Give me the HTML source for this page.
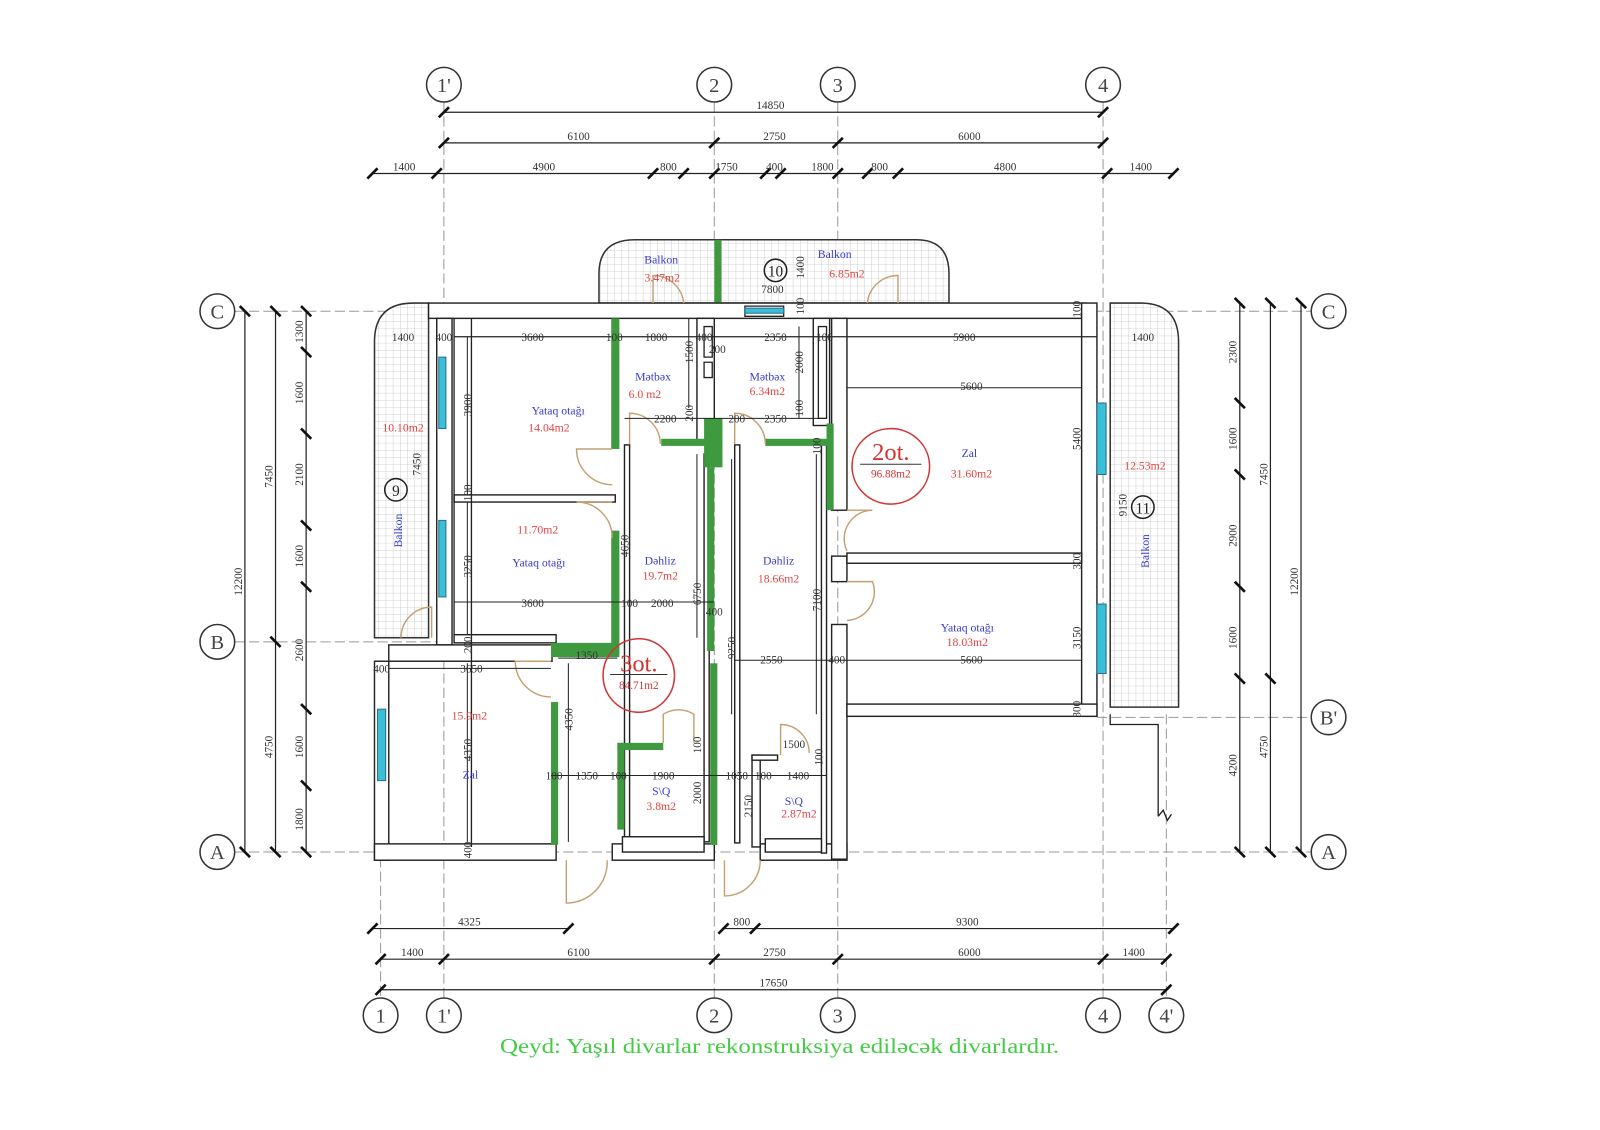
<!DOCTYPE html>
<html><head><meta charset="utf-8"><style>
html,body{margin:0;padding:0;background:#fff;}
svg{display:block;}
text{font-family:"Liberation Serif",serif;}
.d{font-size:11px;fill:#333;text-anchor:middle;}
.b{font-size:11.5px;fill:#3a3ad0;text-anchor:middle;}
.r{font-size:11.5px;fill:#e04545;text-anchor:middle;}
.ax{font-size:20px;fill:#444;text-anchor:middle;}
</style></head><body>
<svg width="1600" height="1130" viewBox="0 0 1568 1107.4" xmlns="http://www.w3.org/2000/svg">
<defs>
<pattern id="g" width="7" height="7" patternUnits="userSpaceOnUse">
<rect width="7" height="7" fill="#fff"/><path d="M0 0H7M0 0V7" stroke="#c4c4c4" stroke-width="0.8"/>
</pattern>
</defs>

<g stroke="#999" stroke-width="1" stroke-dasharray="10 4" fill="none">
<path d="M373 700V978M435 100V978M700 100V978M821 100V978M1081 100V978M1143 700V978"/>
<path d="M230 305H1285M230 629H440M1075 703H1285M230 835H1285"/>
</g>
<g fill="#fff" stroke="#333" stroke-width="1.5">
<circle cx="435" cy="83" r="17"/><circle cx="700" cy="83" r="17"/><circle cx="821" cy="83" r="17"/><circle cx="1081" cy="83" r="17"/>
<circle cx="373" cy="995" r="17"/><circle cx="435" cy="995" r="17"/><circle cx="700" cy="995" r="17"/><circle cx="821" cy="995" r="17"/><circle cx="1081" cy="995" r="17"/><circle cx="1143" cy="995" r="17"/>
<circle cx="213" cy="305" r="17"/><circle cx="213" cy="629" r="17"/><circle cx="213" cy="835" r="17"/>
<circle cx="1302" cy="305" r="17"/><circle cx="1302" cy="703" r="17"/><circle cx="1302" cy="835" r="17"/>
</g>
<g class="ax">
<text x="435" y="90">1'</text><text x="700" y="90">2</text><text x="821" y="90">3</text><text x="1081" y="90">4</text>
<text x="373" y="1002">1</text><text x="435" y="1002">1'</text><text x="700" y="1002">2</text><text x="821" y="1002">3</text><text x="1081" y="1002">4</text><text x="1143" y="1002">4'</text>
<text x="213" y="312">C</text><text x="213" y="636">B</text><text x="213" y="842">A</text>
<text x="1302" y="312">C</text><text x="1302" y="710">B'</text><text x="1302" y="842">A</text>
</g>

<g stroke="#222" stroke-width="1.2" fill="none">
<path d="M435 110H1081M435 140H1081M365 170H1150"/>
<path d="M365 910H557M709 910H1150M373 940H1143M373 970H1143"/>
<path d="M240 305V835M270 305V835M300 305V835M1215 297V835M1245 297V835M1275 297V835"/>
</g>
<g stroke="#111" stroke-width="2.6">
<path d="M430 115l10-10M1076 115l10-10
M430 145l10-10M695 145l10-10M816 145l10-10M1076 145l10-10
M360 175l10-10M423 175l10-10M635 175l10-10M665 175l10-10M695 175l10-10M745 175l10-10M760 175l10-10M816 175l10-10M845 175l10-10M875 175l10-10M1080 175l10-10M1145 175l10-10
M360 915l10-10M552 915l10-10M704 915l10-10M735 915l10-10M1145 915l10-10
M368 945l10-10M430 945l10-10M695 945l10-10M816 945l10-10M1076 945l10-10M1138 945l10-10
M368 975l10-10M1138 975l10-10
M235 300l10 10M235 830l10 10
M265 300l10 10M265 624l10 10M265 830l10 10
M295 300l10 10M295 340l10 10M295 420l10 10M295 510l10 10M295 570l10 10M295 690l10 10M295 765l10 10M295 830l10 10
M1210 292l10 10M1210 390l10 10M1210 460l10 10M1210 570l10 10M1210 660l10 10M1210 830l10 10
M1240 292l10 10M1240 660l10 10M1240 830l10 10
M1270 292l10 10M1270 830l10 10"/>
</g>
<g class="d">
<text x="755" y="107">14850</text>
<text x="567" y="137">6100</text><text x="759" y="137">2750</text><text x="950" y="137">6000</text>
<text x="396" y="167">1400</text><text x="533" y="167">4900</text><text x="655" y="167">800</text><text x="712" y="167">1750</text><text x="759" y="167">400</text><text x="806" y="167">1800</text><text x="862" y="167">800</text><text x="985" y="167">4800</text><text x="1118" y="167">1400</text>
<text x="460" y="907">4325</text><text x="727" y="907">800</text><text x="948" y="907">9300</text>
<text x="404" y="937">1400</text><text x="567" y="937">6100</text><text x="759" y="937">2750</text><text x="950" y="937">6000</text><text x="1111" y="937">1400</text>
<text x="758" y="967">17650</text>
<text transform="translate(237 570) rotate(-90)">12200</text>
<text transform="translate(267 467) rotate(-90)">7450</text><text transform="translate(267 732) rotate(-90)">4750</text>
<text transform="translate(297 325) rotate(-90)">1300</text><text transform="translate(297 385) rotate(-90)">1600</text><text transform="translate(297 465) rotate(-90)">2100</text><text transform="translate(297 545) rotate(-90)">1600</text><text transform="translate(297 637) rotate(-90)">2600</text><text transform="translate(297 732) rotate(-90)">1600</text><text transform="translate(297 803) rotate(-90)">1800</text>
<text transform="translate(1212 345) rotate(-90)">2300</text><text transform="translate(1212 430) rotate(-90)">1600</text><text transform="translate(1212 525) rotate(-90)">2900</text><text transform="translate(1212 625) rotate(-90)">1600</text><text transform="translate(1212 750) rotate(-90)">4200</text>
<text transform="translate(1242 465) rotate(-90)">7450</text><text transform="translate(1242 732) rotate(-90)">4750</text>
<text transform="translate(1272 570) rotate(-90)">12200</text>
</g>

<g stroke="#333" stroke-width="1.5">
<path d="M367 625V335Q367 297 405 297H420V625Z" fill="url(#g)"/>
<path d="M587 297V268Q587 235 622 235H898Q930 235 930 268V297Z" fill="url(#g)"/>
<path d="M1088 297H1118Q1155 297 1155 335V693H1088Z" fill="url(#g)"/>
</g>
<rect x="700" y="235" width="7" height="62" fill="#3f9a3f"/>

<g fill="#fff" stroke="#222" stroke-width="1.4">
<rect x="420" y="297" width="645" height="15"/>
<rect x="428" y="312" width="15" height="320"/>
<rect x="1060" y="297" width="15" height="405"/>
<rect x="367" y="648" width="14" height="195"/>
<rect x="367" y="827" width="178" height="16"/>
<rect x="600" y="827" width="100" height="16"/>
<rect x="745" y="827" width="85" height="16"/>
<rect x="381" y="632" width="160" height="16"/>
<rect x="815" y="312" width="15" height="188"/>
<rect x="815" y="545" width="15" height="25"/>
<rect x="815" y="612" width="15" height="230"/>
<rect x="830" y="542" width="230" height="10"/>
<rect x="830" y="690" width="245" height="12"/>
<rect x="445" y="485" width="158" height="7"/>
<rect x="445" y="622" width="100" height="8"/>
<rect x="683" y="312" width="17" height="120"/>
<rect x="797" y="312" width="16" height="105"/>
<rect x="612" y="436" width="5" height="390"/>
<rect x="690" y="445" width="5" height="380"/>
<rect x="720" y="436" width="5" height="390"/>
<rect x="805" y="436" width="5" height="400"/>
<rect x="737" y="740" width="8" height="90"/>
<rect x="737" y="740" width="25" height="5"/>
<rect x="610" y="820" width="80" height="15"/>
<rect x="750" y="822" width="55" height="13"/>
</g>
<g fill="none" stroke="#222" stroke-width="1.3">
<path d="M1088 700V710H1135V800M1135 800l5 -6 4 10 4 -6"/>
<path d="M445 312V622M462 312V830M445 330H1075"/>
<path d="M690 320v30h8v-30zM690 355v15h8v-15zM802 320v90h8v-90zM730 300h38v10h-38z"/>
</g>
<g fill="#3bbfd8" stroke="#2a6f8a" stroke-width="1">
<rect x="430" y="350" width="7" height="70"/><rect x="430" y="510" width="7" height="75"/>
<rect x="370" y="695" width="8" height="70"/>
<rect x="1075" y="395" width="9" height="70"/><rect x="1075" y="592" width="9" height="68"/>
<rect x="730" y="302" width="38" height="5"/>
</g>

<g fill="#3f9a3f">
<rect x="599" y="312" width="8" height="128"/>
<rect x="599" y="520" width="8" height="120"/>
<rect x="540" y="630" width="67" height="14"/>
<rect x="540" y="688" width="7" height="140"/>
<rect x="648" y="430" width="60" height="7"/>
<rect x="690" y="410" width="18" height="48"/>
<rect x="693" y="458" width="7" height="180"/>
<rect x="750" y="430" width="62" height="7"/>
<rect x="810" y="415" width="7" height="85"/>
<rect x="605" y="728" width="45" height="7"/>
<rect x="605" y="728" width="7" height="85"/>
<rect x="696" y="650" width="7" height="178"/>
</g>

<g fill="none" stroke="#c4a070" stroke-width="1.4">
<path d="M640 297V270A30 30 0 0 1 670 297"/>
<path d="M880 297V270A30 30 0 0 0 850 297"/>
<path d="M600 440H565A35 35 0 0 0 600 475"/>
<path d="M600 492H565A35 35 0 0 1 600 527"/>
<path d="M617 435V405A30 30 0 0 1 647 435"/>
<path d="M720 435V405A30 30 0 0 1 750 435"/>
<path d="M830 500H855A28 28 0 0 0 830 540"/>
<path d="M830 570H855A28 28 0 0 1 830 608"/>
<path d="M540 648H505A35 35 0 0 0 540 683"/>
<path d="M650 728V700A28 28 0 0 1 680 700V728"/>
<path d="M423 625V595A30 30 0 0 0 393 625"/>
<path d="M555 843V885A40 40 0 0 0 595 843"/>
<path d="M710 843V878A35 35 0 0 0 745 843"/>
<path d="M765 740V710A28 28 0 0 1 793 738"/>
</g>

<g stroke="#222" stroke-width="1" fill="none">
<path d="M830 380H1060M612 410H810M445 590H700M381 655H540M547 645H605M720 647H1060M540 760H810"/>
<path d="M458 330V485M458 492V622M612 440V640M683 445V625M717 450V700M800 445V700M557 650V825M458 650V825M675 312V400M783 320V410"/>
</g>
<g class="d" font-size="10.5">
<text x="395" y="334">1400</text><text x="435" y="334">400</text><text x="522" y="334">3600</text><text x="602" y="334">100</text><text x="643" y="334">1800</text><text x="690" y="334">400</text><text x="703" y="346">200</text><text x="760" y="334">2350</text><text x="808" y="334">100</text><text x="945" y="334">5900</text><text x="1120" y="334">1400</text>
<text x="952" y="382">5600</text><text x="652" y="414">2200</text><text x="722" y="414">200</text><text x="760" y="414">2350</text>
<text x="522" y="595">3600</text><text x="617" y="595">100</text><text x="649" y="595">2000</text><text x="700" y="603">400</text>
<text x="756" y="650">2550</text><text x="820" y="650">400</text><text x="952" y="650">5600</text><text x="462" y="659">3650</text><text x="374" y="659">400</text><text x="575" y="646">1350</text>
<text x="543" y="764">100</text><text x="575" y="764">1350</text><text x="606" y="764">100</text><text x="650" y="764">1900</text><text x="722" y="764">1050</text><text x="748" y="764">100</text><text x="782" y="764">1400</text><text x="778" y="733">1500</text>
<text x="757" y="287">7800</text>
<text transform="translate(462 397) rotate(-90)">3900</text><text transform="translate(462 483) rotate(-90)">100</text><text transform="translate(462 555) rotate(-90)">3250</text>
<text transform="translate(412 455) rotate(-90)">7450</text><text transform="translate(616 535) rotate(-90)">4650</text><text transform="translate(687 582) rotate(-90)">6750</text>
<text transform="translate(721 635) rotate(-90)">9250</text><text transform="translate(804 588) rotate(-90)">7100</text><text transform="translate(561 705) rotate(-90)">4350</text><text transform="translate(462 735) rotate(-90)">4350</text>
<text transform="translate(462 833) rotate(-90)">400</text><text transform="translate(462 632) rotate(-90)">200</text>
<text transform="translate(679 345) rotate(-90)">1500</text><text transform="translate(679 405) rotate(-90)">200</text><text transform="translate(787 355) rotate(-90)">2000</text><text transform="translate(787 400) rotate(-90)">100</text><text transform="translate(804 437) rotate(-90)">100</text>
<text transform="translate(1059 430) rotate(-90)">5400</text><text transform="translate(1104 495) rotate(-90)">9150</text><text transform="translate(1059 625) rotate(-90)">3150</text><text transform="translate(1059 550) rotate(-90)">300</text><text transform="translate(1059 695) rotate(-90)">300</text><text transform="translate(1059 303) rotate(-90)">100</text>
<text transform="translate(788 262) rotate(-90)">1400</text><text transform="translate(788 300) rotate(-90)">100</text>
<text transform="translate(687 777) rotate(-90)">2000</text><text transform="translate(687 730) rotate(-90)">100</text><text transform="translate(737 790) rotate(-90)">2150</text><text transform="translate(806 742) rotate(-90)">100</text>
</g>

<g class="b">
<text x="648" y="258">Balkon</text><text x="818" y="253">Balkon</text>
<text x="640" y="373">Mətbəx</text><text x="752" y="373">Mətbəx</text>
<text x="547" y="406">Yataq otağı</text><text x="528" y="555">Yataq otağı</text>
<text x="647" y="553">Dəhliz</text><text x="763" y="553">Dəhliz</text>
<text x="950" y="448">Zal</text><text x="948" y="619">Yataq otağı</text>
<text x="461" y="763">Zal</text><text x="648" y="779">S\Q</text><text x="778" y="789">S\Q</text>
<text transform="translate(394 520) rotate(-90)">Balkon</text><text transform="translate(1126 540) rotate(-90)">Balkon</text>
</g>
<g class="r">
<text x="649" y="276">3.47m2</text><text x="830" y="272">6.85m2</text>
<text x="632" y="390">6.0 m2</text><text x="752" y="387">6.34m2</text>
<text x="538" y="423">14.04m2</text><text x="527" y="523">11.70m2</text>
<text x="647" y="568">19.7m2</text><text x="763" y="571">18.66m2</text>
<text x="952" y="468">31.60m2</text><text x="948" y="633">18.03m2</text>
<text x="460" y="705">15.9m2</text><text x="648" y="794">3.8m2</text><text x="783" y="801">2.87m2</text>
<text x="395" y="423">10.10m2</text><text x="1122" y="460">12.53m2</text>
</g>
<g fill="none" stroke="#d03535" stroke-width="1.5">
<ellipse cx="873" cy="457" rx="38" ry="37"/><ellipse cx="626" cy="662" rx="35" ry="36"/>
</g>
<g stroke="#333" stroke-width="1"><path d="M843 455H903M598 661H654"/></g>
<text x="873" y="451" font-size="24" fill="#d03535" text-anchor="middle">2ot.</text>
<text x="873" y="468" font-size="11" fill="#d03535" text-anchor="middle">96.88m2</text>
<text x="626" y="658" font-size="24" fill="#d03535" text-anchor="middle">3ot.</text>
<text x="626" y="675" font-size="11" fill="#d03535" text-anchor="middle">84.71m2</text>
<g fill="none" stroke="#222" stroke-width="1.5"><circle cx="388" cy="480" r="11"/><circle cx="760" cy="265" r="11"/><circle cx="1120" cy="497" r="11"/></g>
<g font-size="15" fill="#222" text-anchor="middle"><text x="388" y="486">9</text><text x="760" y="271">10</text><text x="1120" y="503">11</text></g>

<text x="764" y="1032" font-size="21" fill="#44cc44" text-anchor="middle" textLength="548" lengthAdjust="spacingAndGlyphs">Qeyd: Yaşıl divarlar rekonstruksiya ediləcək divarlardır.</text>
</svg>
</body></html>
